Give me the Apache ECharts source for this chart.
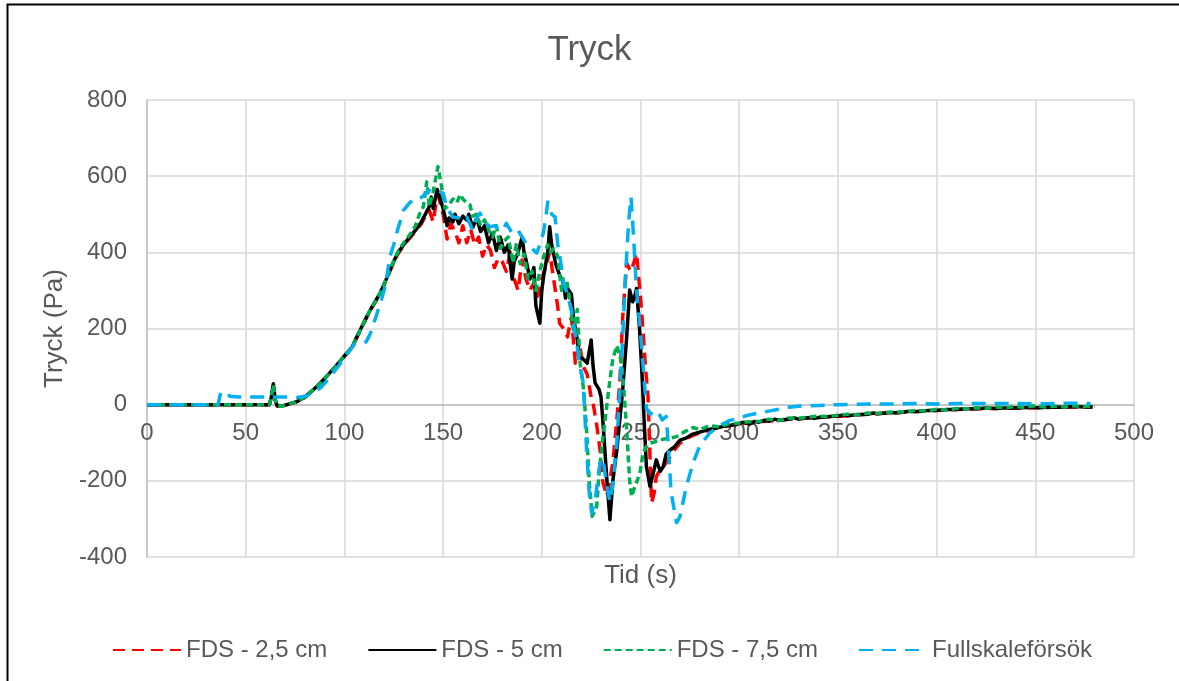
<!DOCTYPE html>
<html>
<head>
<meta charset="utf-8">
<title>Tryck</title>
<script src="https://cdn.jsdelivr.net/npm/echarts@6/dist/echarts.min.js"></script>
<style>
  html, body { margin: 0; padding: 0; background: #ffffff; }
  #chart { width: 1179px; height: 681px; }
</style>
</head>
<body>
<div id="chart"></div>
<script>
// Pressure (Pa) over time (s): three FDS grid resolutions and the full-scale test.
const seriesNames = ['FDS - 2,5 cm', 'FDS - 5 cm', 'FDS - 7,5 cm', 'Fullskaleförsök'];

const fds25 = [
  [0,0],[40,0],[62,0],[63,18],[64,50],[65,10],[66,-4],[68,-4],[71,0],[76,8],[80,19],[84,37],[88,57],[92,80],
  [96,102],[100,127],[104,150],[108,195],[111,226],[114,255],[118,290],[121,325],[124,362],[127,395],[130,418],
  [133,437],[136,455],[139,475],[141,495],[143,510],[145,480],[147,550],[148,540],[150,500],[152,435],[154,475],
  [156,455],[158,425],[160,470],[162,425],[164,460],[166,420],[168,440],[170,390],[172,420],[174,405],[176,360],
  [178,385],[180,375],[182,350],[184,400],[186,330],[188,300],[190,380],[192,330],[194,300],[196,320],[198,285],
  [200,330],[202,362],[204,400],[206,330],[208,260],[209,214],[211,200],[213,178],[215,230],[217,109],[219,162],
  [221,100],[223,80],[225,20],[226,4],[228,-60],[229.5,-119],[231,-205],[233,-240],[234,-210],[236,-153],
  [238,-40],[239.5,57],[241,231],[243,372],[245,350],[246.5,370],[248,398],[250,283],[251,214],[252.5,100],
  [253.8,21],[255.6,-258],[257,-230],[258,-189],[260,-170],[262,-160],[265,-136],[267,-120],[270,-101],
  [273,-90],[276,-82],[280,-74],[285,-67],[290,-60],[295,-55],[300,-51],[305,-47],[310,-45],[315,-43],
  [320,-41],[325,-38],[330,-37],[335,-35],[340,-34],[345,-32],[350,-31],[355,-29],[360,-27],[365,-25],
  [370,-24],[375,-22],[380,-21],[385,-19],[390,-18],[395,-16],[400,-15],[410,-13],[420,-11],[430,-10],
  [440,-9],[450,-8],[460,-7],[470,-6],[479,-6]
];

const fds50 = [
  [0,0],[20,0],[40,0],[62,0],[63,20],[64,55],[65,12],[66,-3],[68,-4],[71,0],[76,8],[80,20],[84,38],[88,58],
  [92,80],[96,103],[100,128],[102,140],[104,152],[106,175],[108,196],[111,228],[114,257],[118,292],[121,327],
  [124,365],[127,398],[130,420],[133,440],[136,458],[139,480],[141,500],[143,520],[144,545],[145,515],[147,565],
  [148,550],[150,515],[152,470],[153,490],[155,480],[156,500],[158,475],[160,495],[162,485],[163,500],[165,465],
  [167,490],[169,455],[171,470],[173,425],[175,450],[177,405],[179,440],[181,400],[183,420],[184,370],[185,330],
  [186,375],[188,400],[190,440],[191,400],[192,380],[194,330],[196,360],[197,260],[199,214],[200,300],[201,340],
  [203,400],[204,467],[205,420],[207,370],[209,340],[211,320],[212,280],[213,305],[215,290],[216,230],[218,170],
  [219,126],[221,120],[223,109],[225,170],[226,100],[227,57],[229,40],[230,21],[231,-48],[233,-200],[234.5,-302],
  [236,-200],[238,-119],[240,-14],[241,40],[243,178],[244.5,301],[246,270],[247,283],[248,305],[249.5,200],
  [251,57],[252,-60],[253,-163],[254.8,-215],[256,-190],[258,-145],[260,-175],[261.5,-163],[263,-130],[265,-119],
  [267,-112],[270,-93],[273,-88],[276,-78],[280,-72],[284,-66],[288,-62],[292,-57],[296,-54],[300,-50],
  [302,-46],[305,-51],[308,-44],[310,-46],[313,-41],[315,-43],[318,-38],[320,-41],[325,-38],[328,-35],
  [330,-38],[335,-34],[338,-36],[341,-33],[346,-31],[350,-30],[353,-27],[355,-29],[360,-26],[365,-25],
  [368,-22],[370,-24],[375,-21],[380,-21],[385,-18],[391,-18],[396,-15],[400,-15],[405,-13],[410,-13],
  [415,-11],[420,-11],[425,-9],[430,-10],[436,-8],[442,-9],[447,-7],[452,-8],[458,-6],[464,-7],[470,-5],
  [475,-6],[479,-6]
];

const fds75 = [
  [0,0],[40,0],[62,0],[63,20],[64,52],[65,12],[66,-3],[68,-4],[71,0],[76,8],[80,20],[84,38],[88,58],[92,80],
  [96,103],[100,128],[104,152],[108,196],[111,228],[114,257],[118,292],[121,327],[124,365],[127,400],[130,425],
  [133,445],[136,470],[138,500],[140,520],[141.7,585],[143,520],[145,560],[147.4,625],[149,580],[151,515],
  [153,525],[155,540],[157,530],[158.6,552],[160,540],[162,530],[163.6,525],[165,495],[167,500],[169,470],
  [171,485],[173,460],[175,440],[177,470],[179,410],[181,430],[183,440],[185.5,372],[187,420],[189,370],
  [191,395],[193,330],[195,350],[197,300],[199,350],[201,390],[203,420],[204.5,400],[206,410],[208,390],
  [210,300],[211,330],[212.6,327],[214,280],[216,196],[218,250],[219.4,109],[221,47],[222.7,-66],[224,-200],
  [225.5,-293],[227.8,-268],[229,-180],[231,-84],[233,0],[234.5,65],[236,120],[238,155],[240.5,109],[242,10],
  [243,-66],[244.5,-200],[245.5,-241],[247.2,-215],[249.7,-180],[251.3,-127],[253,-110],[254.8,-101],
  [257,-98],[259.9,-93],[262,-90],[265,-88],[268.3,-84],[272,-72],[276.7,-60],[280,-66],[285,-55],[290,-58],
  [295,-50],[300,-48],[305,-45],[310,-44],[315,-38],[320,-42],[325,-35],[330,-36],[335,-33],[340,-30],
  [345,-31],[350,-28],[355,-25],[360,-27],[365,-22],[370,-23],[375,-20],[380,-19],[385,-18],[390,-15],
  [395,-17],[400,-12],[405,-14],[410,-10],[415,-11],[420,-8],[425,-10],[430,-6],[435,-8],[440,-5],[445,-7],
  [450,-3],[455,-6],[460,-4],[465,-6],[470,-3],[475,-5],[480,-4]
];

const fullskala = [
  [0,0],[36,0],[37,25],[38,35],[40,32],[42,22],[46,20],[55,20],[65,20],[72,20],[76,19],[80,22],[84,30],
  [88,45],[92,68],[96,95],[100,122],[103,145],[105,158],[108,160],[111,165],[113,185],[116,231],[119,280],
  [121,319],[123,388],[125,420],[127,460],[130,511],[133,530],[136,542],[138,540],[140,548],[143,563],
  [145,558],[148,560],[150,555],[152,515],[155,493],[158,490],[160,483],[162,493],[165,458],[167,490],
  [168.7,503],[171,480],[173.8,467],[176,470],[178,462],[180.4,458],[182,476],[185,450],[188,458],[190,440],
  [192,424],[195,410],[197.4,398],[199,420],[200.7,450],[202,490],[203,532],[205,500],[206.7,493],[208,424],
  [210,360],[211,319],[213,290],[215,248],[217.7,162],[219,110],[221,57],[222.7,-119],[224,-230],[225.3,-285],
  [227,-250],[229.5,-153],[231,-140],[232.5,-200],[234.5,-255],[236,-210],[238,-100],[239.5,30],[241,180],
  [242.5,350],[244,480],[245.2,545],[246.5,440],[248,300],[250,188],[251.5,90],[253,-10],[255,-25],[257,-15],
  [259,-20],[261,-40],[263,-31],[264,-100],[265.5,-230],[268.3,-310],[270,-294],[273,-220],[276.6,-153],
  [280,-108],[285,-75],[290,-55],[295,-42],[300,-35],[305,-27],[310,-22],[315,-17],[320,-12],[325,-7],
  [330,-4],[340,-2],[350,0],[360,1],[370,2],[380,2],[390,3],[400,2],[410,3],[420,3],[430,3],[440,3],
  [450,2],[460,3],[470,4],[478,3]
];

const xTicks = { min: 0, max: 500, step: 50 };
const yTicks = { min: -400, max: 800, step: 200 };

const textColor = '#595959';
const fontFamily = '"Liberation Sans", Arial, sans-serif';

// Plot box in pixels; the time axis is drawn across the zero-pressure line.
const plot = { left: 147, right: 45, top: 100, bottom: 124 };
const plotHeight = 681 - plot.top - plot.bottom;
const zeroOffset = -plotHeight * (0 - yTicks.min) / (yTicks.max - yTicks.min);

const chart = echarts.init(document.getElementById('chart'), null, { renderer: 'canvas' });

function lineSeries(name, data, color, dash) {
  return {
    name: name,
    type: 'line',
    data: data,
    symbol: 'none',
    showSymbol: false,
    smooth: false,
    animation: false,
    lineStyle: { color: color, width: 3.5, type: dash, cap: 'butt', join: 'round' },
    itemStyle: { color: color }
  };
}

chart.setOption({
  backgroundColor: '#ffffff',
  animation: false,
  textStyle: { fontFamily: fontFamily },
  title: {
    text: 'Tryck',
    left: 'center',
    top: 28,
    textStyle: { fontSize: 35, fontWeight: 'normal', color: textColor, fontFamily: fontFamily }
  },
  grid: { left: plot.left, right: plot.right, top: plot.top, bottom: plot.bottom, containLabel: false, outerBoundsMode: 'none' },
  legend: {
    left: 107,
    top: 633,
    itemWidth: 68,
    itemHeight: 14,
    itemGap: 40,
    itemStyle: { opacity: 0 },
    textStyle: { fontSize: 24, color: textColor, fontFamily: fontFamily },
    data: seriesNames
  },
  xAxis: {
    type: 'value',
    position: 'bottom',
    offset: zeroOffset,
    min: xTicks.min,
    max: xTicks.max,
    interval: xTicks.step,
    name: 'Tid (s)',
    nameLocation: 'middle',
    nameGap: 158,
    nameTextStyle: { fontSize: 26, color: textColor, fontFamily: fontFamily, verticalAlign: 'top' },
    axisLine: { show: true, onZero: false, lineStyle: { color: '#bfbfbf', width: 1.5 } },
    axisTick: { show: false },
    axisLabel: { fontSize: 24, color: textColor, margin: 17, fontFamily: fontFamily },
    splitLine: { show: true, lineStyle: { color: '#d9d9d9', width: 1.5 } }
  },
  yAxis: {
    type: 'value',
    min: yTicks.min,
    max: yTicks.max,
    interval: yTicks.step,
    name: 'Tryck (Pa)',
    nameLocation: 'middle',
    nameGap: 73,
    nameRotate: 90,
    nameTextStyle: { fontSize: 26, color: textColor, fontFamily: fontFamily },
    axisLine: { show: true, onZero: false, lineStyle: { color: '#bfbfbf', width: 1.5 } },
    axisTick: { show: false },
    axisLabel: { fontSize: 24, color: textColor, margin: 20, fontFamily: fontFamily },
    splitLine: { show: true, lineStyle: { color: '#d9d9d9', width: 1.5 } }
  },
  graphic: [{
    type: 'rect',
    left: 5,
    top: 2,
    shape: { width: 1300, height: 800 },
    style: { fill: null, stroke: '#000000', lineWidth: 2 },
    silent: true,
    z: 100
  }],
  series: [
    lineSeries(seriesNames[0], fds25, '#ff0000', [12, 7]),
    lineSeries(seriesNames[1], fds50, '#000000', 'solid'),
    lineSeries(seriesNames[2], fds75, '#00b050', [7, 4]),
    lineSeries(seriesNames[3], fullskala, '#00b0f0', [14, 9])
  ]
});
</script>
</body>
</html>
